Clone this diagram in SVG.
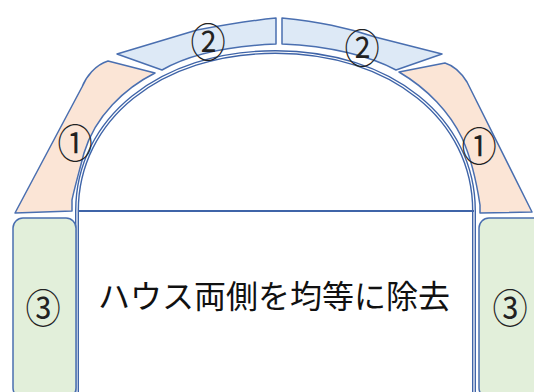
<svg xmlns="http://www.w3.org/2000/svg" width="534" height="392" viewBox="0 0 534 392">
<style>
.seg{stroke:#4a6fb0;stroke-width:1.5;stroke-linejoin:round}
.p1{fill:#fbe5d6}
.p2{fill:#dde9f6}
.p3{fill:#e2efda}
.num{font-family:"Noto Sans CJK JP","Noto Sans",sans-serif;font-size:40px;fill:#222;text-anchor:middle;dominant-baseline:central}
.main{font-family:"Noto Sans CJK JP",sans-serif;font-size:32px;fill:#111;text-anchor:middle}
</style>
<rect width="534" height="392" fill="#fff"/>
<g id="house">
<path d="M77,392 L77,211 C77,119 160,52 275.5,52 C391,52 474,119 474,211 L474,392" fill="none" stroke="#3f64a8" stroke-width="4"/>
<path d="M77,392 L77,211 C77,119 160,52 275.5,52 C391,52 474,119 474,211 L474,392" fill="none" stroke="#fff" stroke-width="1.2"/>
<line x1="78" y1="211" x2="474" y2="211" stroke="#3f64a8" stroke-width="2"/>
<text class="main" x="274" y="308">ハウス両側を均等に除去</text>
</g>
<g id="seg1-left">
<path class="seg p1" d="M108,61 L155,73 C125,88 95,116 84,153 C78,176 74,190 72,200 L72,211 L15,213 L82,87 C86,77 95,65 108,61 Z"/>
<text class="num" transform="translate(75,140) scale(0.88,1)">①</text>
</g>
<g id="seg1-right">
<path class="seg p1" d="M399,72 L445,63 C455,66 462,74 467,82 L532,212 L480,213 L480,205 C477,185 472,160 462,138 C450,113 428,89 399,72 Z"/>
<text class="num" transform="translate(479,143) scale(0.88,1)">①</text>
</g>
<g id="seg2-left">
<path class="seg p2" d="M117,54 L197,30 C230,24 255,20 276,18 L276,44 C228,46 188,55 162,70 Z"/>
<text class="num" transform="translate(208,39) scale(0.88,1)">②</text>
</g>
<g id="seg2-right">
<path class="seg p2" d="M282,18 C320,22 345,27 375,37 L442,54 L396,70 C370,56 330,46 282,44 Z"/>
<text class="num" transform="translate(362,45) scale(0.88,1)">②</text>
</g>
<g id="seg3-left">
<rect class="seg p3" x="13" y="218" width="63" height="180" rx="10"/>
<text class="num" transform="translate(43,305) scale(0.88,1)">③</text>
</g>
<g id="seg3-right">
<rect class="seg p3" x="479" y="218" width="70" height="180" rx="10"/>
<text class="num" transform="translate(510,305) scale(0.88,1)">③</text>
</g>
<g id="connectors"></g>
</svg>
